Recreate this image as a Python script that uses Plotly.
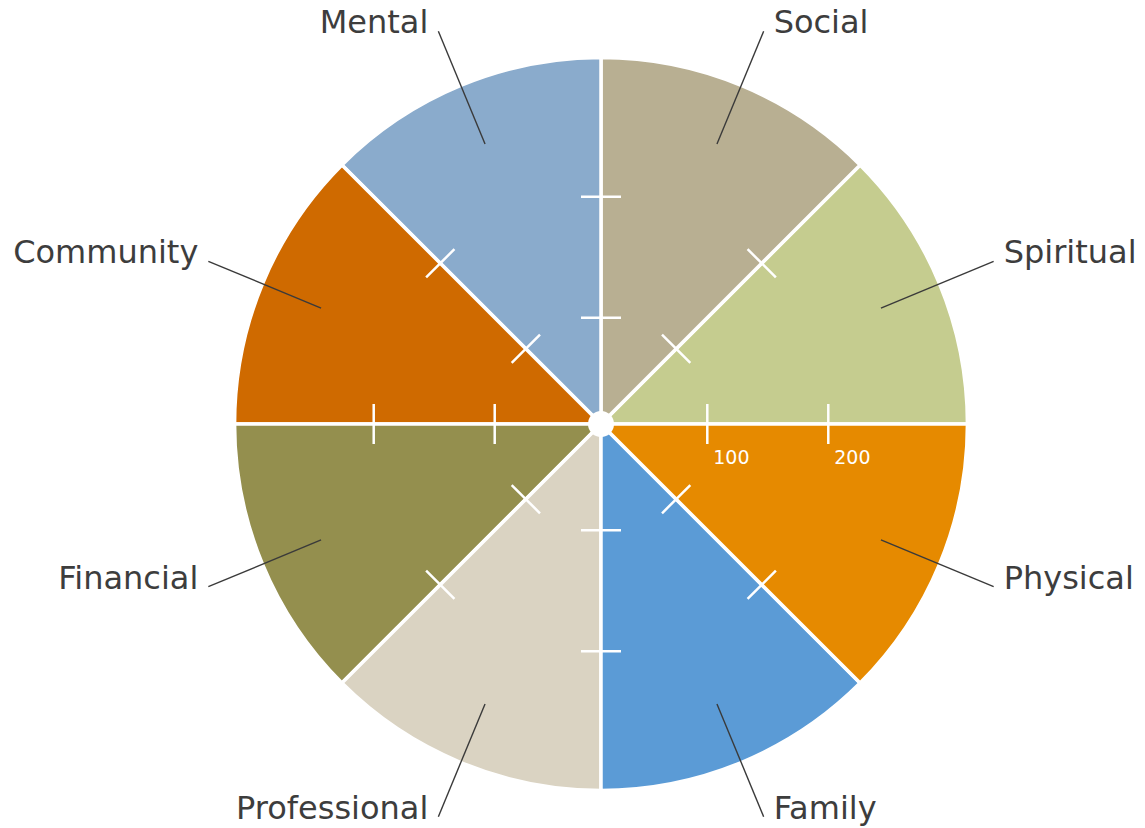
import math
import plotly.graph_objects as go

# ---------------- data ----------------
categories = ["Spiritual", "Social", "Mental", "Community",
              "Financial", "Professional", "Family", "Physical"]
values = [315, 315, 315, 315, 315, 315, 315, 315]
colors = ["#c5cc8f", "#b8af92", "#8aabcc", "#cf6a00",
          "#948f4e", "#dad3c2", "#5b9bd6", "#e68a00"]
tick_values = [100, 200]
tick_labels = ["100", "200"]

# ---------------- layout constants ----------------
W, H = 1145, 828
CX, CY = 601, 424            # polar centre, px from figure left / top
R_PX = H - CY                # polar radius in px
RADIAL_RANGE = [12.15, 346.05]
PPU = R_PX / (RADIAL_RANGE[1] - RADIAL_RANGE[0])   # px per radial unit
LEAD_IN_PX, LEAD_OUT_PX = 303, 425
FONT = "DejaVu Sans"
TEXT_COLOR = "#3d3d3d"

n = len(categories)
sector = 360.0 / n
theta_centers = [(i + 0.5) * sector for i in range(n)]
boundaries = [i * sector for i in range(n)]


def px_to_r(px):
    return RADIAL_RANGE[0] + px / PPU


fig = go.Figure()

# sectors
fig.add_trace(go.Barpolar(
    r=values, theta=theta_centers, width=[sector] * n,
    marker=dict(color=colors, line=dict(color="white", width=3.5)),
    text=categories, hoverinfo="text", subplot="polar",
))

# white centre
fig.add_trace(go.Scatterpolar(
    r=[RADIAL_RANGE[0] + 0.01], theta=[0], mode="markers",
    marker=dict(color="white", size=26), cliponaxis=False,
    hoverinfo="skip", subplot="polar",
))

# scale ticks crossing every boundary line
tr, tt, ta = [], [], []
for b in boundaries:
    for v in tick_values:
        tr.append(v)
        tt.append(b)
        ta.append(-b)
fig.add_trace(go.Scatterpolar(
    r=tr, theta=tt, mode="markers",
    marker=dict(symbol="line-ns", size=40 / 1.4, angle=ta,
                line=dict(color="white", width=2.5)),
    cliponaxis=False, hoverinfo="skip", subplot="polar",
))

# tick value labels (along the 0 deg boundary)
lr, lt = [], []
for v in tick_values:
    tpx = (v - RADIAL_RANGE[0]) * PPU
    ax, ay = tpx + 6, -35
    lr.append(px_to_r(math.hypot(ax, ay)))
    lt.append(math.degrees(math.atan2(ay, ax)))
fig.add_trace(go.Scatterpolar(
    r=lr, theta=lt, mode="text", text=tick_labels,
    textposition="middle right",
    textfont=dict(family=FONT, size=19, color="white"),
    cliponaxis=False, hoverinfo="skip", subplot="polar",
))

# leader lines (radial) drawn as rotated line markers
fig.add_trace(go.Scatterpolar(
    r=[px_to_r((LEAD_IN_PX + LEAD_OUT_PX) / 2)] * n, theta=theta_centers,
    mode="markers",
    marker=dict(symbol="line-ns", size=(LEAD_OUT_PX - LEAD_IN_PX) / 1.4,
                angle=[90 - t for t in theta_centers],
                line=dict(color="#3a3a3a", width=1.4)),
    cliponaxis=False, hoverinfo="skip", subplot="polar",
))

# category labels on a px-scaled cartesian overlay
lx, ly, lpos = [], [], []
for t in theta_centers:
    c, s = math.cos(math.radians(t)), math.sin(math.radians(t))
    side = -1 if c < 0 else 1
    lx.append(LEAD_OUT_PX * c + side * 10)
    ly.append(LEAD_OUT_PX * s + 6)
    lpos.append("middle left" if side < 0 else "middle right")
fig.add_trace(go.Scatter(
    x=lx, y=ly, mode="text", text=categories, textposition=lpos,
    textfont=dict(family=FONT, size=32, color=TEXT_COLOR),
    cliponaxis=False, hoverinfo="skip", xaxis="x", yaxis="y",
))

fig.update_layout(
    width=W, height=H,
    margin=dict(l=0, r=0, t=0, b=0),
    paper_bgcolor="white", plot_bgcolor="rgba(0,0,0,0)",
    showlegend=False,
    xaxis=dict(range=[-CX, W - CX], visible=False, fixedrange=True, domain=[0, 1]),
    yaxis=dict(range=[-(H - CY), CY], visible=False, fixedrange=True, domain=[0, 1]),
    polar=dict(
        domain=dict(x=[(CX - R_PX) / W, (CX + R_PX) / W], y=[0, 2 * R_PX / H]),
        bgcolor="rgba(0,0,0,0)",
        radialaxis=dict(range=RADIAL_RANGE, visible=False),
        angularaxis=dict(visible=False, rotation=0, direction="counterclockwise"),
        bargap=0,
    ),
)

# remove the browser's default 8px body margin so the figure fills the window
fig.write_html("out.html", config={"displayModeBar": False},
               post_script="document.body.style.margin='0px';")
